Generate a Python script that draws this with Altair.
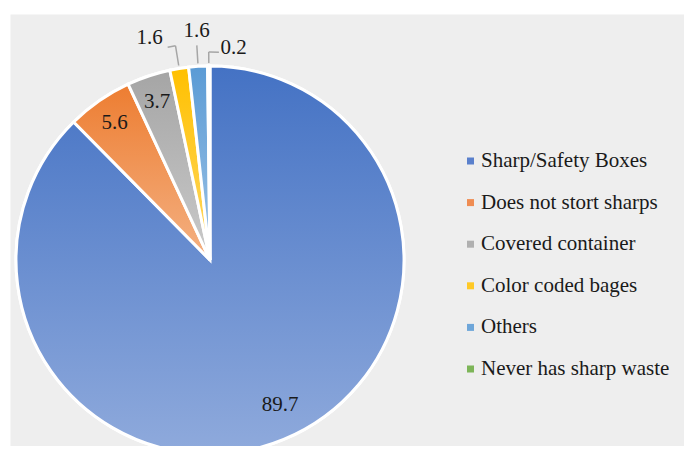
import altair as alt
import pandas as pd

# ---- data ----
categories = [
    "Sharp/Safety Boxes",
    "Does not stort sharps",
    "Covered container",
    "Color coded bages",
    "Others",
    "Never has sharp waste",
]
values = [89.7, 5.6, 3.7, 1.6, 1.6, 0.2]
order = [0, 1, 2, 3, 4, 5]

# ---- styles ----
top_colors = ["#4472C4", "#ED7D31", "#A5A5A5", "#FFC000", "#5B9BD5", "#70AD47"]
bottom_colors = ["#8FAADC", "#F4B183", "#CACACA", "#FFD966", "#9DC3E6", "#A9D18E"]
legend_colors = ["#5A80CC", "#EF8C52", "#B0B0B0", "#FFC926", "#6EA6D9", "#7DB558"]

FONT = "Liberation Serif"
TXT = "#1a1a1a"
LINE = "#a6a6a6"
CX, CY, R = 200, 246, 194

total = sum(values)
df = pd.DataFrame({
    "category": categories,
    "value": values,
    "order": order,
    "label": [f"{v:.1f}" for v in values],
})

theta_scale = alt.Scale(domain=[0, total], range=[0, 6.283185307179586])


def th(field):
    return alt.Theta(f"{field}:Q", stack=False, scale=theta_scale)


def pos():
    return dict(x=alt.value(CX), y=alt.value(CY))


base = alt.Chart().mark_arc(outerRadius=R, stroke="white", strokeWidth=3).encode(
    theta=th("v0"),
    theta2=alt.Theta2("v1:Q"),
    color=alt.Color(
        "category:N",
        scale=alt.Scale(domain=categories, range=legend_colors),
        sort=categories,
        legend=alt.Legend(
            orient="none", legendX=450, legendY=136.5, title=None,
            symbolType="square", symbolSize=49, symbolStrokeWidth=0,
            labelFont=FONT, labelFontSize=21, labelColor=TXT,
            rowPadding=19.6, labelOffset=0, labelLimit=400, padding=0,
        ),
    ),
    **pos(),
)

grad_layers = []
for cat, c0, c1 in zip(categories, top_colors, bottom_colors):
    grad_layers.append(
        alt.Chart().transform_filter(alt.datum.category == cat).mark_arc(
            outerRadius=R, stroke="white", strokeWidth=3,
            color=alt.Gradient(
                gradient="linear", x1=0, y1=0, x2=0, y2=1,
                stops=[alt.GradientStop(offset=0, color=c0),
                       alt.GradientStop(offset=1, color=c1)],
            ),
        ).encode(theta=th("v0"), theta2=alt.Theta2("v1:Q"), **pos())
    )


def radial(cat, r_in, r_out):
    return alt.Chart().transform_filter(alt.datum.category == cat).mark_arc(
        innerRadius=r_in, outerRadius=r_out, fill="transparent",
        stroke=LINE, strokeWidth=1.5,
    ).encode(theta=th("mid"), theta2=alt.Theta2("mid:Q"), **pos())


def elbow(cat, r, shift):
    return alt.Chart().transform_filter(alt.datum.category == cat).transform_calculate(
        h=f"datum.mid + ({shift})"
    ).mark_arc(
        innerRadius=r, outerRadius=r, fill="transparent",
        stroke=LINE, strokeWidth=1.5,
    ).encode(theta=th("mid"), theta2=alt.Theta2("h:Q"), **pos())


leaders = [
    radial(categories[3], 197, 217), elbow(categories[3], 217, -0.6),
    radial(categories[4], 197, 215),
    radial(categories[5], 197, 208), elbow(categories[5], 208, 0.8),
]


def label(cats, radius, dx=0, dy=0):
    return alt.Chart().transform_filter(
        alt.FieldOneOfPredicate(field="category", oneOf=cats)
    ).mark_text(
        radius=radius, dx=dx, dy=dy, font=FONT, fontSize=21, color=TXT,
    ).encode(theta=th("mid"), text="label:N", **pos())


texts = [
    label([categories[0]], 161, 9, -4),
    label([categories[1], categories[2]], 167),
    label([categories[3]], 217, -26, -8),
    label([categories[4]], 217, 0, -12),
    label([categories[5]], 208, 25, -4),
]

chart = alt.layer(base, *grad_layers, *leaders, *texts, data=df).transform_stack(
    stack="value", groupby=[], as_=["v0", "v1"],
    sort=[alt.SortField(field="order", order="ascending")],
).transform_calculate(
    mid="(datum.v0 + datum.v1) / 2"
).properties(
    width=674, height=432,
    autosize=alt.AutoSizeParams(type="none"),
    padding={"left": 2, "top": 6, "right": 0, "bottom": 0},
    background="white",
).configure_view(fill="#eeeeee", stroke="transparent")

chart.save("out.html", embed_options={"renderer": "svg", "actions": False})
